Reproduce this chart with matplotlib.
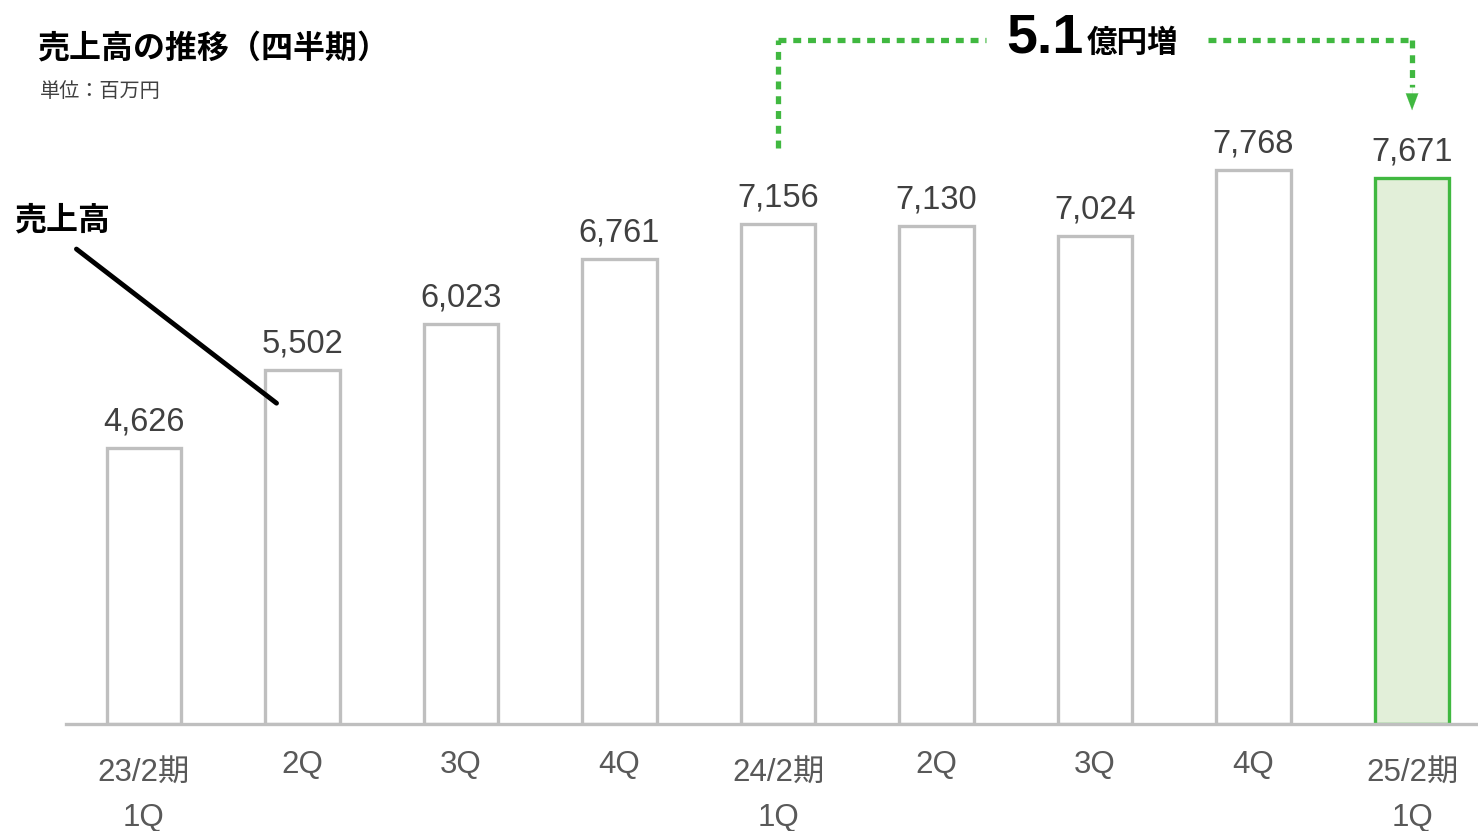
import matplotlib
matplotlib.use("Agg")
import matplotlib.pyplot as plt

plt.rcParams['font.family'] = ['Liberation Sans', 'Noto Sans CJK JP', 'DejaVu Sans']

# quarterly sales (million yen)
quarters = ["23/2期\n1Q", "2Q", "3Q", "4Q", "24/2期\n1Q", "2Q", "3Q", "4Q", "25/2期\n1Q"]
sales = [4626, 5502, 6023, 6761, 7156, 7130, 7024, 7768, 7671]
value_labels = ["4,626", "5,502", "6,023", "6,761", "7,156", "7,130", "7,024", "7,768", "7,671"]

GRAY = '#bfbfbf'
GREEN = '#40b840'
LIGHTGREEN = '#e2efd9'
TXT = '#404040'

W, H = 1478, 831
fig = plt.figure(figsize=(W / 100, H / 100), dpi=100)
ax = fig.add_axes([66 / W, 1 - 724 / H, 1 - 66 / W, 724 / H])

x = list(range(len(sales)))
ax.set_xlim(-0.492, 8.416)
ax.set_ylim(1503, 9686)

faces = ['white'] * (len(sales) - 1) + [LIGHTGREEN]
edges = [GRAY] * (len(sales) - 1) + [GREEN]
bars = ax.bar(x, [v - 1503 for v in sales], bottom=1503, width=0.47,
              color=faces, edgecolor=edges, linewidth=2.4, zorder=2)
for b in bars:
    b.set_joinstyle('miter')

for xi, v, lab in zip(x, sales, value_labels):
    ax.annotate(lab, (xi, v), xytext=(0, 12.5), textcoords='offset points',
                ha='center', va='baseline', fontsize=23.5, color=TXT)

for s in ['top', 'right', 'left']:
    ax.spines[s].set_visible(False)
ax.spines['bottom'].set_color(GRAY)
ax.spines['bottom'].set_linewidth(2.4)
ax.set_yticks([])
ax.set_xticks([])

# category labels under the axis (baseline = last line)
for xi, q in zip(x, quarters):
    off = -73.6 if '\n' in q else -35.3
    ax.annotate(q, (xi, 0), xycoords=('data', 'axes fraction'),
                xytext=(0, off), textcoords='offset points',
                ha='center', va='baseline', fontsize=22.5, color='#595959',
                linespacing=1.62, annotation_clip=False)

# titles
fig.text(37 / W, 1 - 58 / H, "売上高の推移（四半期）", fontsize=23, fontweight='bold',
         color='black', ha='left', va='baseline', family=['Noto Sans CJK JP'])
fig.text(40 / W, 1 - 97 / H, "単位：百万円", fontsize=14.5, color=TXT,
         ha='left', va='baseline', family=['Noto Sans CJK JP'])

# series label with leader line
fig.text(14 / W, 1 - 230 / H, "売上高", fontsize=23, fontweight='bold',
         color='black', ha='left', va='baseline', family=['Noto Sans CJK JP'])
ax.annotate("", xy=(1.0 - 0.15, 5110), xytext=(-0.44, 6890),
            arrowprops=dict(arrowstyle='-', color='black', lw=3.5))

# growth bracket from 24/2 1Q to 25/2 1Q
y_top = 9234
dot = dict(color=GREEN, lw=3.8, linestyle=(0, (1.5, 1.3)), solid_capstyle='butt')
ax.plot([4, 4], [sales[4] + 860, y_top], clip_on=False, **dot)
ax.plot([4, 5.31], [y_top, y_top], clip_on=False, **dot)
ax.plot([6.71, 8.0], [y_top, y_top], clip_on=False, **dot)
ax.plot([8.0, 8.0], [y_top, 8700], clip_on=False, **dot)
ax.annotate("", xy=(8.0, 8440), xytext=(8.0, 8700),
            arrowprops=dict(arrowstyle='-|>,head_width=0.45,head_length=1.2',
                            color=GREEN, lw=0.1, shrinkA=0, shrinkB=0))
ax.text(5.93, 9098, "5.1", fontsize=40, fontweight='bold', color='black',
        ha='right', va='baseline', family=['Liberation Sans Narrow', 'Liberation Sans'])
ax.text(5.95, 9098, "億円増", fontsize=22, fontweight='bold', color='black',
        ha='left', va='baseline', family=['Noto Sans CJK JP'])

fig.savefig("out.png", dpi=100)
